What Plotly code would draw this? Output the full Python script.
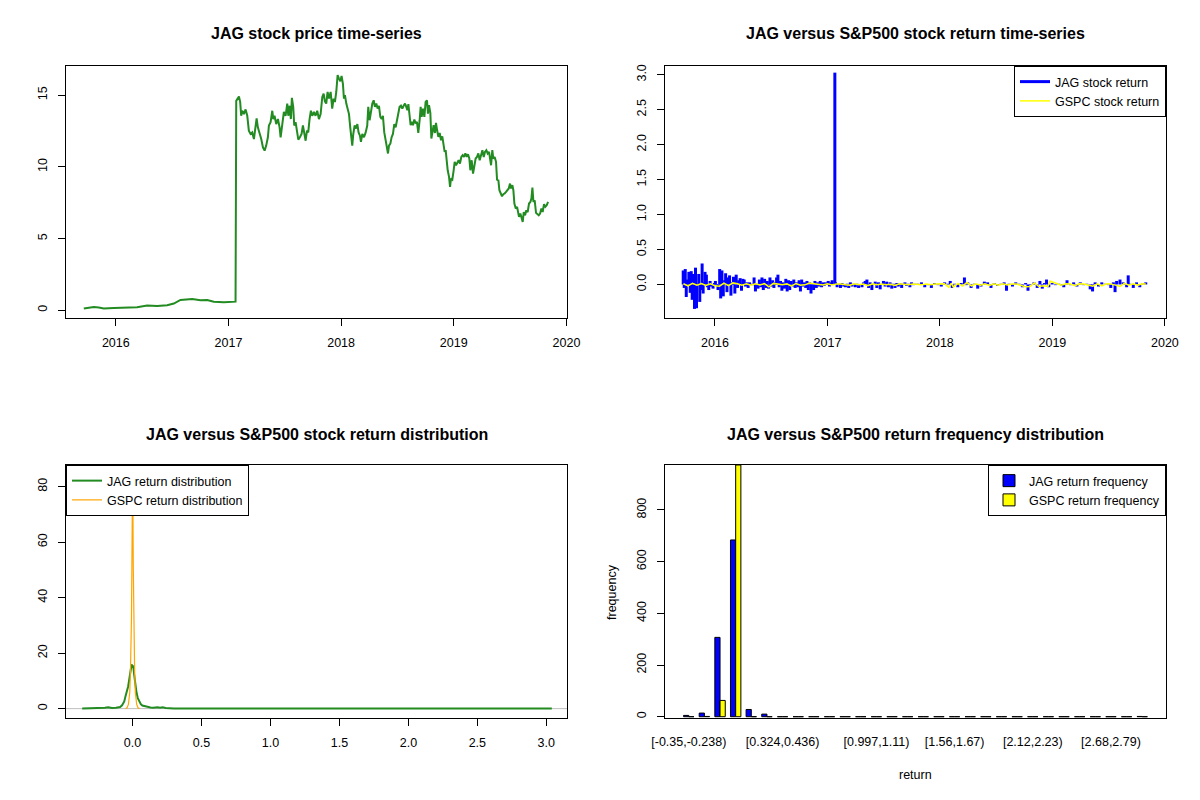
import plotly.graph_objects as go

FONT = "Liberation Sans, Arial, sans-serif"

# ---------------- data: JAG price (decimal years) ----------------
price_years = [
    2015.716, 2015.775, 2015.805, 2015.849, 2015.893, 2015.982, 2016.101, 2016.189, 2016.278, 2016.367,
    2016.456, 2016.515, 2016.574, 2016.634, 2016.678, 2016.752, 2016.811, 2016.870, 2016.959, 2017.063,
    2017.069, 2017.093, 2017.104, 2017.113, 2017.122, 2017.137, 2017.152, 2017.167, 2017.181, 2017.196,
    2017.211, 2017.226, 2017.241, 2017.250, 2017.261, 2017.276, 2017.291, 2017.306, 2017.321, 2017.335,
    2017.350, 2017.359, 2017.374, 2017.389, 2017.398, 2017.409, 2017.424, 2017.439, 2017.454, 2017.463,
    2017.477, 2017.492, 2017.507, 2017.522, 2017.531, 2017.543, 2017.554, 2017.563, 2017.575, 2017.584,
    2017.596, 2017.608, 2017.620, 2017.634, 2017.649, 2017.661, 2017.673, 2017.685, 2017.697, 2017.708,
    2017.720, 2017.732, 2017.744, 2017.759, 2017.773, 2017.788, 2017.803, 2017.818, 2017.833, 2017.845,
    2017.856, 2017.868, 2017.880, 2017.892, 2017.907, 2017.921, 2017.933, 2017.945, 2017.957, 2017.969,
    2017.981, 2017.993, 2018.004, 2018.016, 2018.025, 2018.034, 2018.046, 2018.058, 2018.070, 2018.081,
    2018.090, 2018.099, 2018.108, 2018.120, 2018.132, 2018.144, 2018.155, 2018.167, 2018.176, 2018.188,
    2018.203, 2018.218, 2018.232, 2018.241, 2018.253, 2018.265, 2018.277, 2018.289, 2018.300, 2018.312,
    2018.324, 2018.336, 2018.348, 2018.360, 2018.371, 2018.383, 2018.395, 2018.407, 2018.416, 2018.425,
    2018.437, 2018.448, 2018.460, 2018.472, 2018.484, 2018.496, 2018.508, 2018.519, 2018.531, 2018.543,
    2018.555, 2018.567,
    2018.573, 2018.588, 2018.597, 2018.608, 2018.617, 2018.626, 2018.638, 2018.650, 2018.662, 2018.673,
    2018.685, 2018.697, 2018.706, 2018.715, 2018.727, 2018.739, 2018.750, 2018.762, 2018.771, 2018.780,
    2018.792, 2018.801, 2018.810, 2018.821, 2018.833, 2018.842, 2018.851, 2018.863, 2018.875, 2018.887,
    2018.898, 2018.907, 2018.919, 2018.928, 2018.937, 2018.946, 2018.958, 2018.967, 2018.975, 2018.987,
    2018.999, 2019.008, 2019.020, 2019.032, 2019.043, 2019.055, 2019.067, 2019.079, 2019.091, 2019.103,
    2019.115, 2019.126, 2019.138, 2019.147, 2019.159, 2019.171, 2019.183, 2019.194, 2019.206, 2019.218,
    2019.230, 2019.242, 2019.254, 2019.266, 2019.277, 2019.289, 2019.301, 2019.313, 2019.322, 2019.331,
    2019.342, 2019.351, 2019.363, 2019.375, 2019.384, 2019.396, 2019.405, 2019.417, 2019.428, 2019.440,
    2019.452, 2019.464, 2019.476, 2019.488, 2019.499, 2019.508, 2019.520, 2019.529, 2019.538, 2019.550,
    2019.562, 2019.570, 2019.579, 2019.591, 2019.603, 2019.612, 2019.621, 2019.633, 2019.644, 2019.656,
    2019.668, 2019.680, 2019.689, 2019.698, 2019.707, 2019.718, 2019.730, 2019.742, 2019.754, 2019.766,
    2019.778, 2019.789, 2019.801, 2019.813, 2019.825, 2019.837,
]
price_values = [
    0.12, 0.19, 0.23, 0.19, 0.12, 0.16, 0.16, 0.21, 0.33, 0.30,
    0.35, 0.47, 0.72, 0.74, 0.79, 0.70, 0.72, 0.60, 0.56, 0.60,
    14.60, 14.90, 14.53, 13.56, 13.91, 13.68, 14.00, 13.56, 12.52, 12.29,
    12.40, 11.94, 12.98, 13.38, 12.75, 12.40, 11.94, 11.36, 11.13, 11.48,
    12.06, 12.88, 13.11, 13.91, 13.33, 13.56, 12.98, 13.33, 12.75, 12.06,
    12.98, 13.83, 13.56, 14.41, 13.56, 14.26, 13.33, 14.81, 14.18, 12.88,
    13.11, 12.52, 11.89, 12.06, 12.29, 12.88, 12.40, 11.82, 12.52, 12.40,
    13.33, 13.91, 13.56, 13.83, 13.56, 13.91, 13.33, 13.68, 14.87, 15.10,
    14.56, 14.41, 15.22, 14.76, 15.22, 14.06, 14.76, 14.52, 15.22, 16.39,
    16.15, 15.96, 16.33, 15.79, 14.76, 14.99, 14.41, 13.91, 13.68, 12.75,
    11.94, 11.48, 12.29, 12.88, 12.67, 12.98, 12.40, 12.17, 11.74, 12.29,
    12.06, 12.40, 12.88, 14.18, 13.25, 13.83, 14.41, 14.64, 14.18, 14.41,
    14.06, 14.25, 13.48, 13.33, 13.56, 12.40, 11.74, 11.28, 10.93, 11.48,
    11.62, 12.06, 12.29, 12.98, 12.75, 13.25, 13.83, 14.18, 14.26, 14.06,
    14.26, 14.41,
    14.30, 13.95, 14.37, 13.76, 12.90, 13.14, 12.90, 13.30, 13.02, 13.14,
    12.36, 13.25, 14.18, 13.48, 14.06, 13.48, 14.53, 14.64, 13.71, 14.30,
    13.76, 11.97, 12.44, 12.90, 12.36, 13.07, 12.60, 12.09, 12.36, 11.85,
    12.13, 11.62, 11.04, 11.16, 10.11, 9.76, 9.30, 8.60, 9.18, 9.11,
    9.76, 10.35, 10.11, 10.35, 10.46, 10.23, 10.69, 10.81, 10.69, 10.93,
    10.69, 10.88, 10.58, 9.76, 10.46, 9.53, 10.23, 10.58, 10.69, 10.93,
    10.46, 10.81, 11.16, 10.69, 11.04, 11.16, 10.93, 11.04, 10.46, 10.11,
    11.16, 10.58, 10.69, 10.35, 9.11, 9.06, 8.37, 8.14, 7.95, 8.09,
    8.14, 8.25, 8.37, 8.49, 8.83, 8.49, 8.72, 8.37, 7.44, 7.09,
    7.21, 6.74, 6.51, 6.74, 6.39, 6.16, 6.85, 6.62, 6.97, 6.85,
    7.44, 7.55, 7.79, 8.55, 7.55, 7.67, 6.79, 6.69, 6.62, 6.74,
    7.09, 6.85, 7.39, 7.21, 7.32, 7.55,
]

# ---------------- data: JAG daily log returns ----------------
ret_years = [
    2015.718, 2015.727, 2015.736, 2015.745, 2015.756, 2015.768, 2015.780, 2015.789, 2015.798, 2015.806,
    2015.818, 2015.827, 2015.836, 2015.848, 2015.856, 2015.865, 2015.874, 2015.886, 2015.895, 2015.904,
    2015.912, 2015.924, 2015.933, 2015.945, 2015.957, 2015.968, 2015.983, 2015.995, 2016.004, 2016.015,
    2016.027, 2016.042, 2016.051, 2016.062, 2016.074, 2016.086, 2016.095, 2016.107, 2016.118, 2016.130,
    2016.142, 2016.154, 2016.165, 2016.177, 2016.189, 2016.201, 2016.212, 2016.224, 2016.236, 2016.248,
    2016.260, 2016.271, 2016.283, 2016.295, 2016.307, 2016.321, 2016.336,
    2016.348, 2016.360, 2016.371, 2016.383, 2016.395, 2016.407, 2016.418, 2016.430, 2016.442, 2016.454,
    2016.465, 2016.477, 2016.489, 2016.501, 2016.513, 2016.524, 2016.536, 2016.548, 2016.560, 2016.571,
    2016.583, 2016.595, 2016.607, 2016.618, 2016.630, 2016.642, 2016.654, 2016.665, 2016.677, 2016.689,
    2016.701, 2016.713, 2016.724, 2016.736, 2016.748, 2016.760, 2016.771, 2016.783, 2016.795, 2016.807,
    2016.818, 2016.830, 2016.842, 2016.854, 2016.866, 2016.877, 2016.889, 2016.901, 2016.913, 2016.924,
    2016.936, 2016.948, 2016.960, 2016.971, 2016.983, 2016.995, 2017.007, 2017.018, 2017.030, 2017.042,
    2017.066, 2017.072,
    2017.086, 2017.101, 2017.116, 2017.130, 2017.145, 2017.160, 2017.175, 2017.189, 2017.204, 2017.219,
    2017.233, 2017.248, 2017.263, 2017.277, 2017.292, 2017.307, 2017.322, 2017.336, 2017.351, 2017.366,
    2017.380, 2017.395, 2017.410, 2017.425, 2017.439, 2017.454, 2017.469, 2017.483, 2017.498, 2017.513,
    2017.527, 2017.542, 2017.557, 2017.572, 2017.586, 2017.601, 2017.616, 2017.630, 2017.645, 2017.660,
    2017.675, 2017.689, 2017.704, 2017.719, 2017.733, 2017.748, 2017.763, 2017.778,
    2017.806, 2017.836, 2017.865, 2017.895, 2017.924, 2017.953, 2017.983, 2018.012, 2018.042, 2018.071,
    2018.092, 2018.109, 2018.130, 2018.159, 2018.189, 2018.218, 2018.233, 2018.248, 2018.277, 2018.306,
    2018.336, 2018.365, 2018.395, 2018.424, 2018.454, 2018.483, 2018.512, 2018.542, 2018.571, 2018.592,
    2018.615, 2018.645, 2018.674, 2018.704, 2018.733, 2018.762, 2018.783, 2018.807, 2018.836, 2018.865,
    2018.889, 2018.910, 2018.930, 2018.948, 2018.968, 2018.998, 2019.027, 2019.057, 2019.086, 2019.101,
    2019.130, 2019.160, 2019.189, 2019.218, 2019.248, 2019.277, 2019.307, 2019.336, 2019.357, 2019.380,
    2019.410, 2019.439, 2019.469, 2019.498, 2019.519, 2019.542, 2019.557, 2019.571, 2019.601, 2019.630,
    2019.660, 2019.674, 2019.689, 2019.719, 2019.748, 2019.777, 2019.807, 2019.830,
]
jag_returns = [
    0.20, -0.05, 0.22, -0.18, 0.07, 0.18, -0.12, 0.19, -0.22, 0.15,
    -0.35, 0.24, -0.34, 0.01, 0.15, -0.25, -0.08, 0.30, -0.13, 0.03,
    0.18, 0.14, -0.04, -0.08, 0.05, -0.03, -0.06, 0.02, 0.05, -0.01,
    -0.08, 0.22, -0.20, 0.20, -0.17, 0.06, 0.16, -0.11, 0.10, 0.13,
    -0.16, 0.03, 0.11, -0.13, 0.14, -0.05, 0.06, 0.09, -0.09, 0.08,
    0.07, -0.03, 0.03, -0.05, 0.03, 0.01, -0.01,
    0.10, -0.10, 0.01, -0.06, 0.07, -0.04, 0.10, -0.08, 0.08, -0.05,
    0.05, -0.06, 0.10, -0.03, 0.06, -0.05, 0.03, 0.10, 0.14, -0.04,
    0.05, -0.09, 0.03, -0.06, 0.08, -0.10, 0.06, -0.08, 0.05, -0.03,
    0.07, -0.05, 0.03, -0.04, 0.06, -0.10, 0.07, -0.03, 0.03, -0.05,
    0.05, -0.08, 0.03, -0.13, 0.01, -0.08, 0.05, -0.05, 0.03, -0.03,
    0.05, -0.04, 0.03, -0.02, 0.03, 0.01, 0.05, -0.03, 0.03, 0.06,
    3.03, 0.03,
    -0.04, 0.01, -0.05, 0.02, -0.03, -0.04, 0.01, -0.05, 0.03, -0.03,
    0.01, -0.04, 0.01, -0.05, -0.01, -0.04, 0.03, 0.05, 0.07, -0.05,
    0.03, -0.08, 0.01, 0.04, -0.05, 0.03, -0.07, 0.01, 0.05, -0.03,
    0.04, -0.04, 0.03, -0.06, 0.01, -0.05, 0.02, -0.03, 0.02, -0.05,
    0.01, 0.03, -0.02, 0.01, -0.04, 0.03, -0.01, 0.01,
    0.01, 0.03, -0.04, -0.01, -0.05, 0.02, -0.01, -0.03, 0.03, 0.01,
    0.05, -0.05, 0.01, -0.04, 0.02, 0.10, -0.01, 0.03, -0.05, 0.01,
    -0.06, -0.03, 0.04, 0.03, -0.05, 0.02, -0.02, 0.01, 0.03, -0.09,
    0.01, -0.03, 0.03, 0.01, -0.04, 0.02, -0.09, -0.01, 0.03, -0.05,
    0.05, -0.06, 0.02, 0.07, -0.04, 0.02, -0.01, 0.01, -0.02, -0.04,
    0.06, -0.01, 0.03, -0.03, 0.03, -0.01, 0.01, -0.07, -0.10, 0.03,
    -0.03, 0.03, 0.01, -0.01, -0.05, 0.03, -0.11, 0.05, 0.07, 0.03,
    -0.04, 0.13, 0.01, -0.05, 0.03, -0.04, 0.02, 0.03,
]

# ---------------- data: GSPC daily log returns ----------------
gspc_years = [
    2015.72, 2015.76, 2015.80, 2015.84, 2015.88, 2015.92, 2015.96, 2016.00, 2016.04, 2016.08,
    2016.12, 2016.16, 2016.20, 2016.24, 2016.28, 2016.32, 2016.36, 2016.40, 2016.44, 2016.48,
    2016.52, 2016.56, 2016.60, 2016.64, 2016.68, 2016.72, 2016.76, 2016.80, 2016.84, 2016.88,
    2016.92, 2016.96, 2017.00, 2017.04, 2017.08, 2017.12, 2017.16, 2017.20, 2017.24, 2017.28,
    2017.32, 2017.36, 2017.40, 2017.44, 2017.48, 2017.52, 2017.56, 2017.60, 2017.64, 2017.68,
    2017.72, 2017.76, 2017.80, 2017.84, 2017.88, 2017.92, 2017.96, 2018.00, 2018.04, 2018.08,
    2018.10, 2018.12, 2018.16, 2018.20, 2018.24, 2018.28, 2018.32, 2018.36, 2018.40, 2018.44,
    2018.48, 2018.52, 2018.56, 2018.60, 2018.64, 2018.68, 2018.72, 2018.76, 2018.80, 2018.84,
    2018.88, 2018.92, 2018.96, 2018.98, 2019.00, 2019.04, 2019.08, 2019.12, 2019.16, 2019.20,
    2019.24, 2019.28, 2019.32, 2019.36, 2019.40, 2019.44, 2019.48, 2019.52, 2019.56, 2019.60,
    2019.64, 2019.68, 2019.72, 2019.76, 2019.80, 2019.83,
]
gspc_returns = [
    0.010, -0.020, 0.015, -0.010, 0.012, -0.015, 0.010, -0.020, -0.025, 0.020,
    -0.018, 0.022, 0.010, -0.010, 0.008, -0.010, 0.010, -0.008, 0.012, -0.035,
    0.015, 0.005, -0.005, 0.008, -0.025, 0.014, -0.010, -0.006, 0.020, 0.010,
    0.006, -0.008, 0.008, -0.006, 0.005, 0.007, -0.004, -0.012, 0.009, -0.005,
    0.006, -0.018, 0.008, -0.004, 0.006, -0.005, 0.004, -0.014, 0.010, 0.004,
    -0.003, 0.006, 0.004, -0.005, 0.008, -0.004, 0.005, 0.008, 0.011, -0.041,
    0.017, -0.038, 0.015, -0.025, 0.027, -0.022, 0.010, -0.012, 0.008, -0.014,
    0.009, -0.010, 0.008, -0.006, 0.007, 0.005, -0.008, -0.032, -0.030, 0.021,
    -0.030, -0.020, -0.027, 0.048, 0.034, 0.010, -0.012, 0.009, 0.007, -0.018,
    0.009, 0.006, -0.010, -0.025, 0.010, -0.020, 0.010, 0.008, -0.010, -0.030,
    0.015, -0.010, 0.010, -0.012, 0.010, 0.005,
]

# ---------------- data: return densities ----------------
dens_jag_x = [-0.365, -0.30, -0.25, -0.20, -0.176, -0.15, -0.12, -0.09, -0.076, -0.06,
              -0.051, -0.04, -0.032, -0.024, -0.015, -0.007, 0.000, 0.005, 0.011, 0.017,
              0.023, 0.029, 0.038, 0.047, 0.060, 0.071, 0.090, 0.108, 0.130, 0.150,
              0.181, 0.200, 0.218, 0.240, 0.300, 0.500, 1.000, 1.500, 2.000, 2.500,
              3.000, 3.040]
dens_jag_y = [0.05, 0.10, 0.10, 0.30, 0.45, 0.20, 0.30, 0.60, 1.20, 2.60,
              4.50, 6.20, 8.00, 10.5, 12.9, 15.9, 15.2, 15.5, 12.5, 9.90,
              7.60, 5.70, 3.80, 2.60, 1.60, 1.10, 0.80, 0.60, 0.40, 0.30,
              0.50, 0.30, 0.45, 0.20, 0.05, 0.02, 0.02, 0.02, 0.02, 0.02,
              0.08, 0.02]
dens_gspc_x = [-0.050, -0.040, -0.030, -0.020, -0.015, -0.010, -0.008, -0.005, -0.002, 0.000,
               0.002, 0.005, 0.008, 0.010, 0.015, 0.020, 0.030, 0.040, 0.050]
dens_gspc_y = [0.0, 0.3, 1.5, 6.0, 14.0, 25.0, 32.0, 50.0, 75.0, 84.4,
               78.0, 52.0, 33.0, 25.0, 14.0, 6.0, 1.5, 0.3, 0.0]

# ---------------- data: return frequency by bin ----------------
bin_labels = [
    "[-0.35,-0.238)", "[-0.238,-0.125)", "[-0.125,-0.0133)", "[-0.0133,0.099)", "[0.099,0.211)",
    "[0.211,0.324)", "[0.324,0.436)", "[0.436,0.548)", "[0.548,0.66)", "[0.66,0.772)",
    "[0.772,0.885)", "[0.885,0.997)", "[0.997,1.11)", "[1.11,1.22)", "[1.22,1.33)",
    "[1.33,1.45)", "[1.45,1.56)", "[1.56,1.67)", "[1.67,1.78)", "[1.78,1.9)",
    "[1.9,2.01)", "[2.01,2.12)", "[2.12,2.23)", "[2.23,2.34)", "[2.34,2.46)",
    "[2.46,2.57)", "[2.57,2.68)", "[2.68,2.79)", "[2.79,2.91)", "[2.91,3.02]",
]
shown_bin_labels = ["[-0.35,-0.238)", "[0.324,0.436)", "[0.997,1.11)",
                    "[1.56,1.67)", "[2.12,2.23)", "[2.68,2.79)"]
jag_freq = [5, 14, 307, 684, 28, 10, 0, 0, 0, 0,
            0, 0, 0, 0, 0, 0, 0, 0, 0, 0,
            0, 0, 0, 0, 0, 0, 0, 0, 0, 1]
gspc_freq = [0, 1, 63, 974, 0, 0, 0, 0, 0, 0,
             0, 0, 0, 0, 0, 0, 0, 0, 0, 0,
             0, 0, 0, 0, 0, 0, 0, 0, 0, 0]

# ---------------- figure ----------------
fig = go.Figure()

fig.add_trace(go.Scatter(x=price_years, y=price_values, mode="lines",
                         line=dict(color="#228B22", width=2),
                         xaxis="x", yaxis="y", showlegend=False))

hx, hy = [], []
for d, r in zip(ret_years, jag_returns):
    hx += [d, d, None]
    hy += [0, r, None]
fig.add_trace(go.Scatter(x=hx, y=hy, mode="lines", name="JAG stock return",
                         line=dict(color="#0000FF", width=3),
                         xaxis="x2", yaxis="y2", legend="legend"))
fig.add_trace(go.Scatter(x=gspc_years, y=gspc_returns, mode="lines", name="GSPC stock return",
                         line=dict(color="#FFFF00", width=1.5),
                         xaxis="x2", yaxis="y2", legend="legend"))

fig.add_trace(go.Scatter(x=dens_jag_x, y=dens_jag_y, mode="lines", name="JAG return distribution",
                         line=dict(color="#228B22", width=2),
                         xaxis="x3", yaxis="y3", legend="legend2"))
fig.add_trace(go.Scatter(x=dens_gspc_x, y=dens_gspc_y, mode="lines", name="GSPC return distribution",
                         line=dict(color="#FFA500", width=1.2),
                         xaxis="x3", yaxis="y3", legend="legend2"))

fig.add_trace(go.Bar(x=bin_labels, y=jag_freq, name="JAG return frequency",
                     marker=dict(color="#0000FF", line=dict(color="black", width=1)),
                     xaxis="x4", yaxis="y4", legend="legend3"))
fig.add_trace(go.Bar(x=bin_labels, y=gspc_freq, name="GSPC return frequency",
                     marker=dict(color="#FFFF00", line=dict(color="black", width=1)),
                     xaxis="x4", yaxis="y4", legend="legend3"))

tickfont = dict(family=FONT, size=12.5, color="black")
base = dict(showline=True, linecolor="black", linewidth=1, mirror=True,
            ticks="outside", ticklen=7, tickcolor="black", tickwidth=1,
            showgrid=False, zeroline=False, tickfont=tickfont, ticklabelstandoff=6,
            automargin=False)

XL = [66 / 1200, 567 / 1200]
XR = [665 / 1200, 1166 / 1200]
YT = [1 - 318 / 800, 1 - 66 / 800]
YB = [1 - 718 / 800, 1 - 465 / 800]

year_ticks = [2016, 2017, 2018, 2019, 2020]
legend_font = dict(family=FONT, size=12.5, color="black")

fig.update_layout(
    width=1200, height=800,
    margin=dict(l=0, r=0, t=0, b=0, autoexpand=False),
    paper_bgcolor="white", plot_bgcolor="white",
    font=dict(family=FONT, color="black"),
    barmode="group", bargap=1 / 3, bargroupgap=0,
    xaxis=dict(base, domain=XL, anchor="y", range=[2015.558, 2020.005],
               tickvals=year_ticks, tickformat="d"),
    yaxis=dict(base, domain=YT, anchor="x", range=[-0.54, 17.03],
               tickvals=[0, 5, 10, 15], tickangle=-90),
    xaxis2=dict(base, domain=XR, anchor="y2", range=[2015.556, 2020.01],
                tickvals=year_ticks, tickformat="d"),
    yaxis2=dict(base, domain=YT, anchor="x2", range=[-0.48, 3.125],
                tickvals=[0, 0.5, 1, 1.5, 2, 2.5, 3], tickformat=".1f", tickangle=-90),
    xaxis3=dict(base, domain=XL, anchor="y3", range=[-0.4825, 3.15],
                tickvals=[0, 0.5, 1, 1.5, 2, 2.5, 3], tickformat=".1f"),
    yaxis3=dict(base, domain=YB, anchor="x3", range=[-3.38, 87.8],
                tickvals=[0, 20, 40, 60, 80], tickangle=-90),
    xaxis4=dict(base, domain=XR, anchor="y4", type="category", range=[-1.52, 30.52],
                tickvals=shown_bin_labels, ticktext=shown_bin_labels,
                tickcolor="rgba(0,0,0,0)", ticklen=6),
    yaxis4=dict(base, domain=YB, anchor="x4", range=[-5, 974],
                tickvals=[0, 200, 400, 600, 800], tickangle=-90),
    legend=dict(x=XR[1], xanchor="right", y=YT[1], yanchor="top",
                bordercolor="black", borderwidth=1, bgcolor="white", font=legend_font),
    legend2=dict(x=XL[0], xanchor="left", y=YB[1], yanchor="top",
                 bordercolor="black", borderwidth=1, bgcolor="white", font=legend_font),
    legend3=dict(x=XR[1], xanchor="right", y=YB[1], yanchor="top",
                 bordercolor="black", borderwidth=1, bgcolor="white", font=legend_font),
)

# zero reference line of the density panel
fig.add_shape(type="line", xref="x3 domain", x0=0, x1=1, yref="y3", y0=0, y1=0,
              line=dict(color="#BEBEBE", width=1), layer="below")

titles = [
    ("JAG stock price time-series", sum(XL) / 2, 1 - 34 / 800),
    ("JAG versus S&P500 stock return time-series", sum(XR) / 2, 1 - 34 / 800),
    ("JAG versus S&P500 stock return distribution", sum(XL) / 2, 1 - 434 / 800),
    ("JAG versus S&P500 return frequency distribution", sum(XR) / 2, 1 - 434 / 800),
]
for text, x, y in titles:
    fig.add_annotation(text="<b>" + text + "</b>", x=x, y=y, xref="paper", yref="paper",
                       showarrow=False, xanchor="center", yanchor="middle",
                       font=dict(family=FONT, size=16, color="black"))

fig.add_annotation(text="frequency", x=612 / 1200, y=1 - 592 / 800, xref="paper", yref="paper",
                   showarrow=False, textangle=-90, xanchor="center", yanchor="middle",
                   font=dict(family=FONT, size=12.5, color="black"))
fig.add_annotation(text="return", x=sum(XR) / 2, y=1 - 775 / 800, xref="paper", yref="paper",
                   showarrow=False, xanchor="center", yanchor="middle",
                   font=dict(family=FONT, size=12.5, color="black"))

fig.write_html("out.html", config={"displayModeBar": False},
               post_script="document.body.style.margin='0';")
